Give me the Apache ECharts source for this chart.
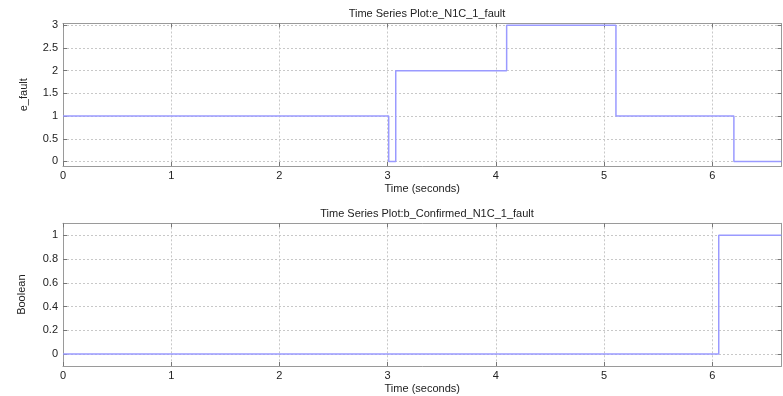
<!DOCTYPE html>
<html>
<head>
<meta charset="utf-8">
<script src="https://cdn.jsdelivr.net/npm/echarts@6/dist/echarts.min.js"></script>
<style>html,body{margin:0;padding:0;background:#fff}#c{width:783px;height:396px}</style>
</head>
<body>
<div id="c"></div>
<script>
// Top plot: e_N1C_1_fault (zero-order hold breakpoints)
const faultTimes = [0, 3.01, 3.075, 4.1, 5.11, 6.2, 6.64];
const faultValues = [1, 0, 2, 3, 1, 0, 0];
// Bottom plot: b_Confirmed_N1C_1_fault
const confTimes = [0, 6.06, 6.64];
const confValues = [0, 1, 1];
// Tick labels
const xTicks = [0, 1, 2, 3, 4, 5, 6];
const yTicksTop = [0, 0.5, 1, 1.5, 2, 2.5, 3];
const yTicksBottom = [0, 0.2, 0.4, 0.6, 0.8, 1];

const FONT = 'Liberation Sans, Arial, sans-serif';
const lineColor = '#9a9aff';
const borderColor = '#9a9a9a';
const gridLine = { show: true, lineStyle: { color: '#c8c8c8', type: [2, 2], width: 1 } };

function xAxisMain(gi, name) {
  return {
    type: 'value', gridIndex: gi, min: 0, max: 6.64, position: 'bottom',
    axisLabel: { customValues: xTicks, color: '#222', fontFamily: FONT, fontSize: 11, margin: 4 },
    axisTick: { customValues: xTicks, inside: true, length: 4, lineStyle: { color: '#777' } },
    axisLine: { show: true, onZero: false, lineStyle: { color: borderColor } },
    splitLine: gridLine,
    name: name, nameLocation: 'middle', nameGap: 17,
    nameTextStyle: { color: '#222', fontFamily: FONT, fontSize: 11 }
  };
}
function xAxisTop(gi) {
  return {
    type: 'value', gridIndex: gi, min: 0, max: 6.64, position: 'top',
    axisLabel: { show: false },
    axisTick: { customValues: xTicks, inside: true, length: 4, lineStyle: { color: '#777' } },
    axisLine: { show: true, onZero: false, lineStyle: { color: borderColor } },
    splitLine: { show: false }
  };
}
function yAxisMain(gi, min, max, ticks, name, gap) {
  return {
    type: 'value', gridIndex: gi, min: min, max: max, position: 'left',
    axisLabel: { customValues: ticks, color: '#222', fontFamily: FONT, fontSize: 11, margin: 5 },
    axisTick: { customValues: ticks, inside: true, length: 4, lineStyle: { color: '#777' } },
    axisLine: { show: true, onZero: false, lineStyle: { color: borderColor } },
    splitLine: gridLine,
    name: name, nameLocation: 'middle', nameGap: gap, nameRotate: 90,
    nameTextStyle: { color: '#222', fontFamily: FONT, fontSize: 11 }
  };
}
function yAxisRight(gi, min, max, ticks) {
  return {
    type: 'value', gridIndex: gi, min: min, max: max, position: 'right',
    axisLabel: { show: false },
    axisTick: { customValues: ticks, inside: true, length: 4, lineStyle: { color: '#777' } },
    axisLine: { show: true, onZero: false, lineStyle: { color: borderColor } },
    splitLine: { show: false }
  };
}

const chart = echarts.init(document.getElementById('c'), null, { renderer: 'canvas' });
chart.setOption({
  animation: false,
  backgroundColor: '#fff',
  title: [
    { text: 'Time Series Plot:e_N1C_1_fault', left: 422, top: 3, textAlign: 'center',
      textStyle: { fontFamily: FONT, fontSize: 11, fontWeight: 'normal', color: '#222' } },
    { text: 'Time Series Plot:b_Confirmed_N1C_1_fault', left: 422, top: 203, textAlign: 'center',
      textStyle: { fontFamily: FONT, fontSize: 11, fontWeight: 'normal', color: '#222' } }
  ],
  grid: [
    { left: 63, right: 1.5, top: 23.5, height: 142.5, show: false },
    { left: 63, right: 1.5, top: 223.3, height: 142.7, show: false }
  ],
  xAxis: [ xAxisMain(0, 'Time (seconds)'), xAxisTop(0), xAxisMain(1, 'Time (seconds)'), xAxisTop(1) ],
  yAxis: [
    yAxisMain(0, -0.1, 3.04, yTicksTop, 'e_fault', 34),
    yAxisRight(0, -0.1, 3.04, yTicksTop),
    yAxisMain(1, -0.1, 1.1, yTicksBottom, 'Boolean', 36),
    yAxisRight(1, -0.1, 1.1, yTicksBottom)
  ],
  series: [
    { type: 'line', xAxisIndex: 0, yAxisIndex: 0, step: 'end', showSymbol: false,
      lineStyle: { color: lineColor, width: 1.5 },
      data: faultTimes.map((t, i) => [t, faultValues[i]]) },
    { type: 'line', xAxisIndex: 2, yAxisIndex: 2, step: 'end', showSymbol: false,
      lineStyle: { color: lineColor, width: 1.5 },
      data: confTimes.map((t, i) => [t, confValues[i]]) }
  ]
});
</script>
</body>
</html>
